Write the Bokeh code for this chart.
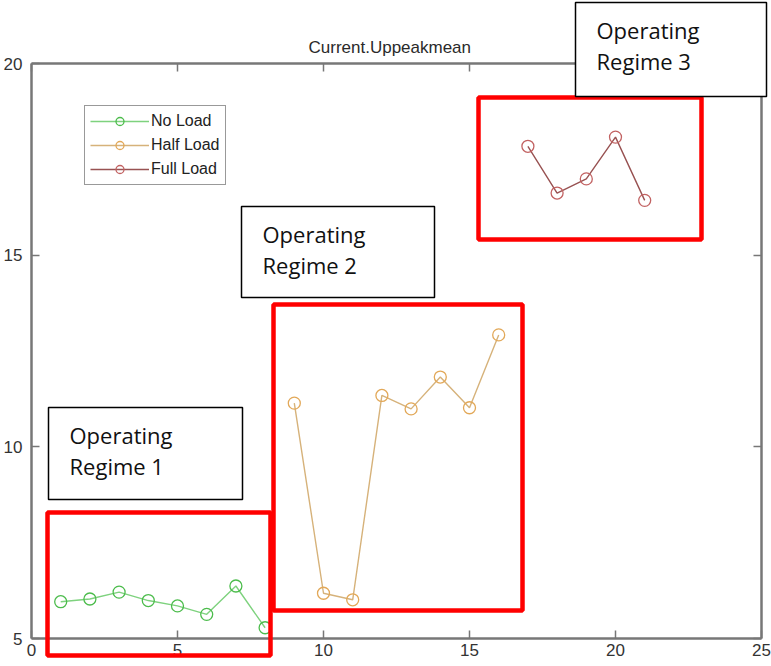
from bokeh.plotting import figure
from bokeh.models import (LinearAxis, FixedTicker, Range1d, Legend, LegendItem)
from bokeh.embed import file_html
from bokeh.resources import INLINE

# ---- data ----
title_text = "Current.Uppeakmean"
no_load_x = [1, 2, 3, 4, 5, 6, 7, 8]
no_load_y = [5.96, 6.03, 6.21, 5.99, 5.85, 5.63, 6.37, 5.28]
half_load_x = [9, 10, 11, 12, 13, 14, 15, 16]
half_load_y = [11.14, 6.18, 6.01, 11.34, 10.99, 11.82, 11.02, 12.92]
full_load_x = [17, 18, 19, 20, 21]
full_load_y = [17.84, 16.62, 16.99, 18.08, 16.43]
series_names = ["No Load", "Half Load", "Full Load"]
x_ticks = [0, 5, 10, 15, 20, 25]
y_ticks = [5, 10, 15, 20]
regime_labels = ["Operating\nRegime 1", "Operating\nRegime 2", "Operating\nRegime 3"]

X0, X1, Y0, Y1 = 0, 25, 5, 20
W, H = 771, 666
FL, FR, FT, FB = 31, 761, 63, 638   # frame edges in canvas pixels

p = figure(width=W, height=H, output_backend="svg", toolbar_location=None,
           x_range=Range1d(X0, X1), y_range=Range1d(Y0, Y1),
           min_border_left=FL, min_border_right=W - FR,
           min_border_top=FT, min_border_bottom=H - FB)
p.title.text = title_text
p.title.align = "left"
p.title.offset = 277
p.title.text_font = "Liberation Sans"
p.title.text_font_size = "17px"
p.title.text_font_style = "normal"
p.title.text_color = "#2a2a2a"
p.title.standoff = 14
p.xgrid.visible = False
p.ygrid.visible = False
p.outline_line_color = None
p.background_fill_color = "white"
p.border_fill_color = "white"

axis_color = "#777777"
for ax in [p.xaxis[0], p.yaxis[0]]:
    ax.axis_line_color = axis_color
    ax.axis_line_width = 2.5
    ax.major_tick_line_color = axis_color
    ax.major_tick_line_width = 1.5
    ax.major_tick_in = 8
    ax.major_tick_out = 0
    ax.minor_tick_line_color = None
    ax.major_label_text_font = "Liberation Sans"
    ax.major_label_text_font_size = "17px"
    ax.major_label_text_color = "#333333"
p.xaxis[0].major_label_standoff = 5
p.yaxis[0].major_label_standoff = 9
p.xaxis[0].ticker = FixedTicker(ticks=x_ticks)
p.yaxis[0].ticker = FixedTicker(ticks=y_ticks)

top_ax = LinearAxis(ticker=FixedTicker(ticks=x_ticks))
right_ax = LinearAxis(ticker=FixedTicker(ticks=y_ticks))
for ax in [top_ax, right_ax]:
    ax.axis_line_color = axis_color
    ax.axis_line_width = 2.5
    ax.major_tick_line_color = axis_color
    ax.major_tick_line_width = 1.5
    ax.major_tick_in = 8
    ax.major_tick_out = 0
    ax.minor_tick_line_color = None
    ax.major_label_text_font_size = "1px"
    ax.major_label_text_color = None
    ax.major_label_standoff = 0
top_ax.major_label_text_font_size = "7px"
p.add_layout(top_ax, "above")
p.add_layout(right_ax, "right")

series = [
    (no_load_x, no_load_y, "#7ed27e", "#4cbc4c"),
    (half_load_x, half_load_y, "#d6b27a", "#e2a858"),
    (full_load_x, full_load_y, "#985252", "#c26262"),
]
items = []
for (xs, ys, lc, mc), name in zip(series, series_names):
    r1 = p.line(xs, ys, line_color=lc, line_width=1.4)
    r2 = p.scatter(xs, ys, marker="circle", size=12, fill_color=None,
                   line_color=mc, line_width=1.3)
    items.append(LegendItem(label=name, renderers=[r1, r2]))

legend = Legend(items=items, location=(53, 453))
legend.border_line_color = "#333333"
legend.border_line_width = 1
legend.background_fill_color = "white"
legend.label_text_font = "Liberation Sans"
legend.label_text_font_size = "16px"
legend.label_text_color = "#222222"
legend.glyph_width = 59
legend.glyph_height = 20
legend.label_height = 20
legend.label_standoff = 2
legend.spacing = 4
legend.padding = 5
legend.margin = 0
p.add_layout(legend, "center")

# ---- annotation boxes, given in canvas pixels and mapped through the frame ----
def px_x(px):
    return X0 + (px - FL) / (FR - FL) * (X1 - X0)

def px_y(py):
    return Y0 + (FB - py) / (FB - FT) * (Y1 - Y0)

red_boxes = [(47, 512, 270, 655), (273, 304, 522, 610), (478, 97, 701, 239)]
p.quad(left=[px_x(b[0]) for b in red_boxes], right=[px_x(b[2]) for b in red_boxes],
       top=[px_y(b[1]) for b in red_boxes], bottom=[px_y(b[3]) for b in red_boxes],
       fill_color=None, line_color="#ff0000", line_width=4.5, level="overlay")

text_boxes = [(48, 407, 242, 499), (241, 206, 434, 297), (575, 2, 766, 96)]
p.quad(left=[px_x(b[0]) for b in text_boxes], right=[px_x(b[2]) for b in text_boxes],
       top=[px_y(b[1]) for b in text_boxes], bottom=[px_y(b[3]) for b in text_boxes],
       fill_color="white", line_color="#000000", line_width=1.5, level="overlay")

p.text(x=[px_x(b[0] + 21) for b in text_boxes], y=[px_y(b[1] + 12) for b in text_boxes],
       text=regime_labels, text_font={"value": "Open Sans"}, text_font_size="22px",
       text_color="#111111", text_baseline="top", text_align="left",
       text_line_height=1.05, level="overlay")

open("out.html", "w").write(file_html(p, INLINE))
